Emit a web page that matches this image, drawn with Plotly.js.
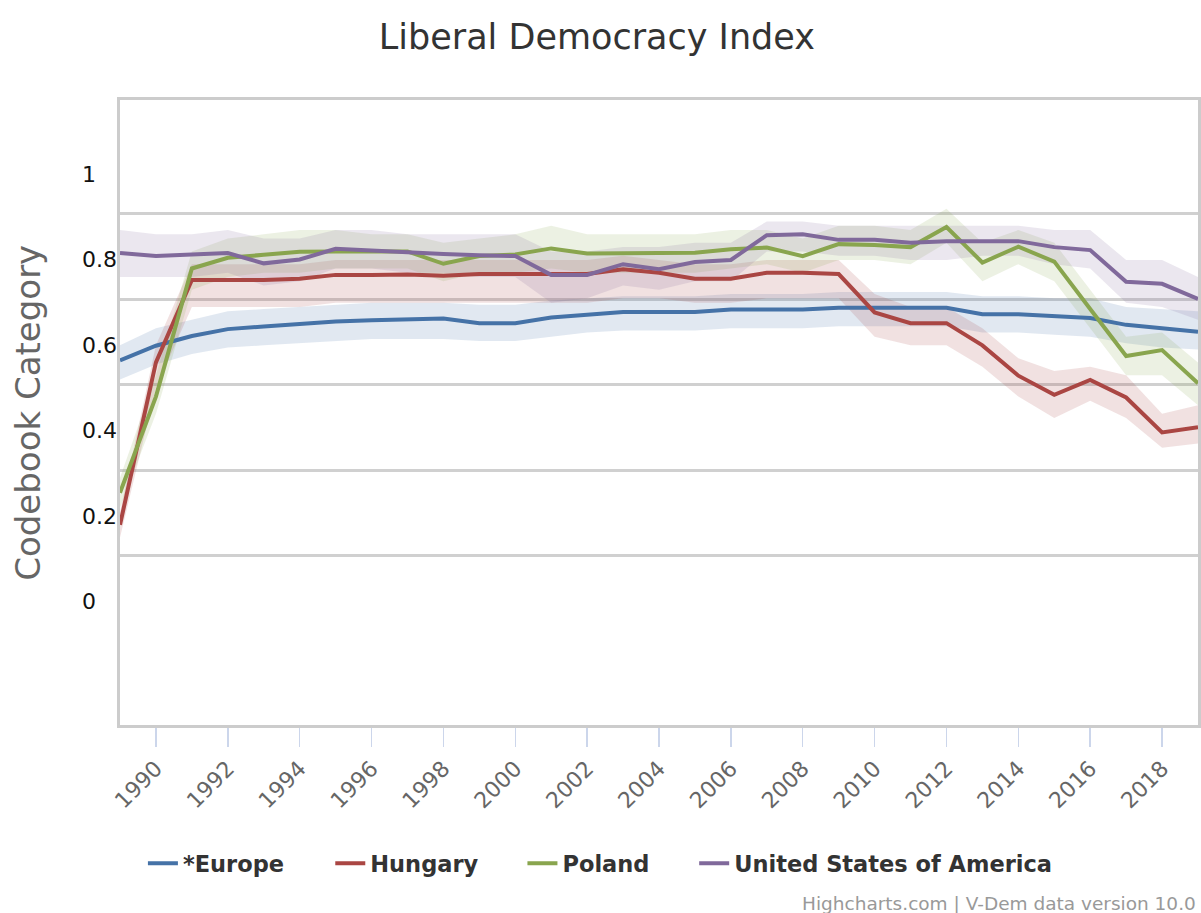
<!DOCTYPE html>
<html>
<head>
<meta charset="utf-8">
<script src="https://cdn.plot.ly/plotly-3.0.1.min.js"></script>
<style>html,body{margin:0;padding:0;background:#fff;}#chart{width:1201px;height:913px;}</style>
</head>
<body>
<div id="chart"></div>
<script>
const years = [1989,1990,1991,1992,1993,1994,1995,1996,1997,1998,1999,2000,2001,2002,2003,2004,2005,2006,2007,2008,2009,2010,2011,2012,2013,2014,2015,2016,2017,2018,2019];

const seriesNames = ['*Europe', 'Hungary', 'Poland', 'United States of America'];

const europe   = [0.565,0.599,0.622,0.638,0.644,0.650,0.656,0.659,0.662,0.663,0.652,0.652,0.665,0.671,0.678,0.678,0.678,0.684,0.684,0.684,0.688,0.687,0.688,0.688,0.673,0.673,0.669,0.664,0.648,0.640,0.632];
const europeHi  = [0.600,0.640,0.660,0.680,0.685,0.690,0.695,0.700,0.700,0.700,0.695,0.695,0.705,0.710,0.715,0.715,0.715,0.720,0.720,0.720,0.725,0.725,0.725,0.725,0.715,0.715,0.710,0.710,0.690,0.685,0.680];
const europeLo  = [0.520,0.555,0.580,0.595,0.600,0.605,0.610,0.615,0.615,0.615,0.610,0.610,0.620,0.630,0.635,0.635,0.635,0.640,0.640,0.640,0.645,0.645,0.645,0.645,0.630,0.630,0.625,0.620,0.605,0.595,0.590];

const hungary   = [0.180,0.560,0.753,0.753,0.753,0.756,0.765,0.765,0.766,0.763,0.767,0.767,0.767,0.767,0.778,0.770,0.756,0.756,0.770,0.770,0.767,0.677,0.652,0.652,0.600,0.529,0.484,0.519,0.478,0.396,0.408];
const hungaryHi = [0.210,0.600,0.790,0.790,0.790,0.790,0.800,0.800,0.800,0.800,0.800,0.800,0.800,0.800,0.810,0.800,0.790,0.790,0.800,0.800,0.800,0.720,0.690,0.690,0.640,0.570,0.540,0.550,0.530,0.440,0.460];
const hungaryLo = [0.150,0.500,0.690,0.690,0.690,0.690,0.700,0.700,0.700,0.700,0.700,0.700,0.700,0.700,0.710,0.710,0.700,0.700,0.710,0.710,0.710,0.620,0.600,0.600,0.550,0.480,0.430,0.470,0.430,0.360,0.370];

const poland    = [0.255,0.480,0.780,0.805,0.812,0.819,0.820,0.819,0.820,0.791,0.809,0.813,0.827,0.815,0.815,0.815,0.817,0.825,0.829,0.809,0.837,0.835,0.830,0.877,0.794,0.831,0.796,0.685,0.575,0.589,0.511];
const polandHi  = [0.290,0.530,0.820,0.850,0.860,0.870,0.870,0.860,0.860,0.840,0.850,0.860,0.880,0.860,0.860,0.860,0.860,0.870,0.870,0.850,0.880,0.880,0.870,0.920,0.840,0.870,0.840,0.730,0.620,0.630,0.560];
const polandLo  = [0.220,0.440,0.730,0.760,0.770,0.770,0.780,0.780,0.780,0.750,0.770,0.770,0.780,0.770,0.770,0.770,0.770,0.780,0.790,0.770,0.800,0.800,0.790,0.840,0.750,0.790,0.750,0.640,0.530,0.530,0.460];

const usa       = [0.816,0.809,0.813,0.816,0.792,0.801,0.826,0.822,0.816,0.814,0.811,0.809,0.765,0.765,0.790,0.778,0.795,0.800,0.858,0.860,0.847,0.847,0.840,0.844,0.844,0.844,0.830,0.823,0.749,0.744,0.709];
const usaHi     = [0.870,0.860,0.860,0.870,0.850,0.850,0.870,0.870,0.860,0.860,0.860,0.860,0.820,0.820,0.830,0.830,0.840,0.840,0.890,0.890,0.880,0.880,0.880,0.880,0.880,0.880,0.870,0.870,0.800,0.800,0.760];
const usaLo     = [0.760,0.760,0.760,0.770,0.740,0.750,0.780,0.780,0.770,0.770,0.760,0.760,0.700,0.710,0.740,0.730,0.750,0.750,0.820,0.820,0.810,0.810,0.800,0.800,0.810,0.810,0.790,0.780,0.700,0.690,0.660];

const xTickVals = [1990,1992,1994,1996,1998,2000,2002,2004,2006,2008,2010,2012,2014,2016,2018];
const yLabelVals = [0, 0.2, 0.4, 0.6, 0.8, 1];
const yLabelText = ['0', '0.2', '0.4', '0.6', '0.8', '1'];
const yGridVals = [0.108, 0.308, 0.508, 0.708, 0.908];

const colors = ['#4572A7', '#AA4643', '#89A54E', '#80699B'];
const bandColors = ['rgba(69,114,167,0.16)', 'rgba(170,70,67,0.16)', 'rgba(137,165,78,0.16)', 'rgba(128,105,155,0.16)'];

const lines = [europe, hungary, poland, usa];
const his = [europeHi, hungaryHi, polandHi, usaHi];
const los = [europeLo, hungaryLo, polandLo, usaLo];

const legendIds = ['legend', 'legend2', 'legend3', 'legend4'];
const legendLeft = [0.119, 0.275, 0.435, 0.578];

const traces = [];
for (let i = 0; i < 4; i++) {
  traces.push({x: years, y: los[i], type: 'scatter', mode: 'lines', line: {width: 0, color: colors[i]},
    showlegend: false, hoverinfo: 'skip', legend: legendIds[i]});
  traces.push({x: years, y: his[i], type: 'scatter', mode: 'lines', line: {width: 0, color: colors[i]},
    fill: 'tonexty', fillcolor: bandColors[i], showlegend: false, hoverinfo: 'skip', legend: legendIds[i]});
}
for (let i = 0; i < 4; i++) {
  traces.push({x: years, y: lines[i], type: 'scatter', mode: 'lines', name: seriesNames[i],
    line: {width: 4, color: colors[i]}, legend: legendIds[i]});
}

const annotations = yLabelVals.map((v, k) => ({
  x: -0.037, xref: 'paper', xanchor: 'left', y: v, yref: 'y', yanchor: 'middle',
  text: yLabelText[k], showarrow: false, font: {family: 'DejaVu Sans', size: 22, color: '#111'}
}));
annotations.push({
  x: -0.086, xref: 'paper', xanchor: 'center', y: 0.5, yref: 'paper', yanchor: 'middle',
  text: 'Codebook Category', textangle: -90, showarrow: false,
  font: {family: 'DejaVu Sans', size: 34, color: '#666'}
});
annotations.push({
  x: 1, xref: 'paper', xanchor: 'right', y: -0.285, yref: 'paper', yanchor: 'middle',
  text: 'Highcharts.com | V-Dem data version 10.0', showarrow: false,
  font: {family: 'DejaVu Sans', size: 18.5, color: '#999'}
});

const legendFont = {family: 'DejaVu Sans', size: 22.5, color: '#333', weight: 'bold'};

const layout = {
  width: 1201, height: 913,
  margin: {l: 120, r: 3, t: 100, b: 188},
  paper_bgcolor: '#fff', plot_bgcolor: '#fff',
  title: {text: 'Liberal Democracy Index', x: 0.497, xref: 'container', xanchor: 'center', y: 0.96, yref: 'container', yanchor: 'middle',
    font: {family: 'DejaVu Sans', size: 35, color: '#333'}},
  xaxis: {range: [1989, 2019], tickvals: xTickVals, tickangle: -45, ticks: 'outside', ticklen: 19,
    tickcolor: '#ccd6eb', tickwidth: 1.5, showgrid: false, zeroline: false,
    showline: true, mirror: true, linecolor: '#cccccc', linewidth: 3,
    tickfont: {family: 'DejaVu Sans', size: 22, color: '#666'}},
  yaxis: {range: [-0.289, 1.1745], tickvals: yGridVals, showticklabels: false, ticks: '',
    showgrid: true, gridcolor: '#d0d0d0', gridwidth: 3, zeroline: false,
    showline: true, mirror: true, linecolor: '#cccccc', linewidth: 3},
  annotations: annotations,
  showlegend: true
};
legendIds.forEach((id, i) => {
  layout[id] = {orientation: 'h', x: legendLeft[i], xref: 'container', xanchor: 'left',
    y: 0.054, yref: 'container', yanchor: 'middle', font: legendFont, bgcolor: 'rgba(0,0,0,0)'};
});

Plotly.newPlot('chart', traces, layout, {displayModeBar: false, staticPlot: true});
</script>
</body>
</html>
